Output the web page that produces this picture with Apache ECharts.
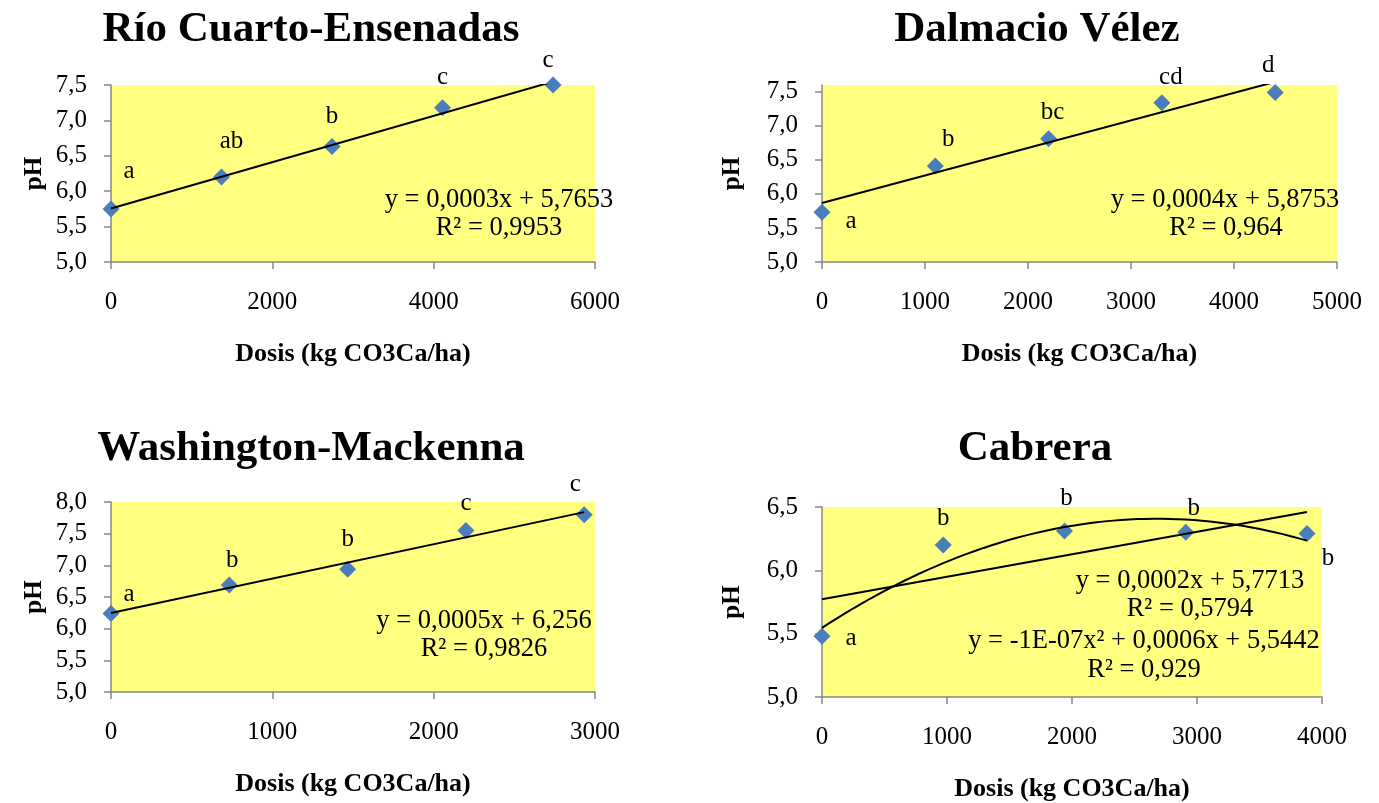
<!DOCTYPE html>
<html>
<head>
<meta charset="utf-8">
<script src="https://cdn.jsdelivr.net/npm/echarts@6/dist/echarts.min.js"></script>
<style>
html, body { margin: 0; padding: 0; background: #fff; }
#chart { width: 1379px; height: 803px; }
</style>
</head>
<body>
<div id="chart"></div>
<script>
// datos: dosis (kg CO3Ca/ha) y pH
var dosisRio = [0, 1370, 2740, 4110, 5480];
var phRio = [5.75, 6.20, 6.63, 7.18, 7.50];
var letrasRio = ['a', 'ab', 'b', 'c', 'c'];

var dosisDal = [0, 1100, 2200, 3300, 4400];
var phDal = [5.73, 6.41, 6.81, 7.34, 7.49];
var letrasDal = ['a', 'b', 'bc', 'cd', 'd'];

var dosisWas = [0, 733, 1467, 2200, 2933];
var phWas = [6.24, 6.69, 6.94, 7.55, 7.80];
var letrasWas = ['a', 'b', 'b', 'c', 'c'];

var dosisCab = [0, 970, 1940, 2910, 3880];
var phCab = [5.48, 6.20, 6.31, 6.30, 6.29];
var letrasCab = ['a', 'b', 'b', 'b', 'b'];

var titulos = ['Río Cuarto-Ensenadas', 'Dalmacio Vélez', 'Washington-Mackenna', 'Cabrera'];
var ecuaciones = [
  ['y = 0,0003x + 5,7653', 'R² = 0,9953'],
  ['y = 0,0004x + 5,8753', 'R² = 0,964'],
  ['y = 0,0005x + 6,256', 'R² = 0,9826'],
  ['y = 0,0002x + 5,7713', 'R² = 0,5794', 'y = -1E-07x² + 0,0006x + 5,5442', 'R² = 0,929']
];
var xTicks = [[0, 6000, 2000], [0, 5000, 1000], [0, 3000, 1000], [0, 4000, 1000]];
var yTicks = [[5, 7.5, 7.5], [5, 7.5, 7.6], [5, 8, 8], [5, 6.5, 6.5]]; // min, ultimo tick, max

// desplazamiento de las letras respecto de cada punto
var offRio = [[18, -37], [10, -36], [0, -30], [0, -30], [-5, -25]];
var offDal = [[29, 9], [13, -27], [4, -26], [9, -25], [-7, -27]];
var offWas = [[18, -19], [3, -25], [0, -30], [0, -27], [-9, -30]];
var offCab = [[29, 2], [0, -27], [2, -33], [8, -24], [21, 25]];

var serif = '"Liberation Serif", "Times New Roman", serif';
var azul = '#4A7EBB';
var gris = '#868686';

function ajusteLineal(xs, ys) {
  var n = xs.length, sx = 0, sy = 0, sxx = 0, sxy = 0;
  for (var i = 0; i < n; i++) {
    sx += xs[i]; sy += ys[i]; sxx += xs[i] * xs[i]; sxy += xs[i] * ys[i];
  }
  var b = (n * sxy - sx * sy) / (n * sxx - sx * sx);
  var a = (sy - b * sx) / n;
  return [a, b];
}

function ajusteCuadratico(xs, ys) {
  // ecuaciones normales, x en miles para no perder precision
  var s = [0, 0, 0, 0, 0], t = [0, 0, 0];
  for (var i = 0; i < xs.length; i++) {
    var u = xs[i] / 1000;
    for (var k = 0; k < 5; k++) s[k] += Math.pow(u, k);
    for (var k = 0; k < 3; k++) t[k] += Math.pow(u, k) * ys[i];
  }
  var m = [[s[0], s[1], s[2], t[0]], [s[1], s[2], s[3], t[1]], [s[2], s[3], s[4], t[2]]];
  for (var c = 0; c < 3; c++) {
    for (var r = c + 1; r < 3; r++) {
      var f = m[r][c] / m[c][c];
      for (var j = c; j < 4; j++) m[r][j] -= f * m[c][j];
    }
  }
  var sol = [0, 0, 0];
  for (var r = 2; r >= 0; r--) {
    var v = m[r][3];
    for (var j = r + 1; j < 3; j++) v -= m[r][j] * sol[j];
    sol[r] = v / m[r][r];
  }
  return sol;
}

function puntos(xs, ys, letras, offs, idx) {
  var data = xs.map(function (x, i) {
    return {
      value: [x, ys[i]],
      label: { formatter: letras[i], offset: offs[i] }
    };
  });
  return {
    type: 'scatter', xAxisIndex: idx, yAxisIndex: idx,
    symbol: 'diamond', symbolSize: 17,
    itemStyle: { color: azul, opacity: 1 },
    label: {
      show: true, position: 'inside', color: '#000', fontFamily: serif, fontSize: 25,
      textBorderWidth: 0, textBorderColor: 'transparent'
    },
    data: data, z: 2
  };
}

function recta(xs, ys, idx) {
  var c = ajusteLineal(xs, ys);
  var x1 = xs[xs.length - 1];
  return {
    type: 'line', xAxisIndex: idx, yAxisIndex: idx, symbol: 'none', clip: true,
    lineStyle: { color: '#000', width: 2 }, z: 3,
    data: [[xs[0], c[0]], [x1, c[0] + c[1] * x1]]
  };
}

function curva(xs, ys, idx) {
  var c = ajusteCuadratico(xs, ys);
  var x1 = xs[xs.length - 1], d = [];
  for (var i = 0; i <= 60; i++) {
    var x = x1 * i / 60, u = x / 1000;
    d.push([x, c[0] + c[1] * u + c[2] * u * u]);
  }
  return {
    type: 'line', xAxisIndex: idx, yAxisIndex: idx, symbol: 'none', clip: true,
    smooth: false, lineStyle: { color: '#000', width: 2 }, z: 3, data: d
  };
}

var grids = [
  { left: 111, top: 85, width: 484, height: 177 },
  { left: 822, top: 85, width: 515, height: 177 },
  { left: 111, top: 502, width: 484, height: 190 },
  { left: 822, top: 507, width: 500, height: 190 }
];
var nameGapY = [64, 77, 64, 77];

var xAxis = [], yAxis = [];
for (var i = 0; i < 4; i++) {
  grids[i].show = true;
  grids[i].backgroundColor = '#FFFF80';
  grids[i].borderWidth = 0;
  xAxis.push({
    type: 'value', gridIndex: i, min: xTicks[i][0], max: xTicks[i][1], interval: xTicks[i][2],
    name: 'Dosis (kg CO3Ca/ha)', nameLocation: 'middle', nameGap: 79,
    nameTextStyle: { fontFamily: serif, fontWeight: 'bold', fontSize: 26, color: '#000' },
    axisLine: { lineStyle: { color: gris, width: 1.5 } },
    axisTick: { show: true, length: 7, lineStyle: { color: gris, width: 1.5 } },
    axisLabel: {
      fontFamily: serif, fontSize: 25, color: '#000', margin: 28,
      formatter: function (v) { return String(v); }
    },
    splitLine: { show: false }
  });
  var vals = [];
  for (var v = yTicks[i][0]; v <= yTicks[i][1] + 1e-9; v += 0.5) vals.push(Math.round(v * 10) / 10);
  yAxis.push({
    type: 'value', gridIndex: i, min: yTicks[i][0], max: yTicks[i][2],
    name: 'pH', nameLocation: 'middle', nameGap: nameGapY[i], nameRotate: 90,
    nameTextStyle: { fontFamily: serif, fontWeight: 'bold', fontSize: 25, color: '#000' },
    axisLine: { show: true, lineStyle: { color: gris, width: 1.5 } },
    axisTick: { show: true, length: 7, customValues: vals, lineStyle: { color: gris, width: 1.5 } },
    axisLabel: {
      fontFamily: serif, fontSize: 25, color: '#000', margin: 24, customValues: vals,
      formatter: function (v) { return v.toFixed(1).replace('.', ','); }
    },
    splitLine: { show: false }
  });
}

var titlePos = [[311, 8], [1037, 8], [311, 427], [1035, 427]];
var title = titulos.map(function (t, i) {
  return {
    text: t, left: titlePos[i][0], top: titlePos[i][1], textAlign: 'center', padding: 0,
    textStyle: { fontFamily: serif, fontWeight: 'bold', fontSize: 43, color: '#000' }
  };
});

var eqPos = [
  [[499, 200], [499, 228]],
  [[1225, 200], [1226, 228]],
  [[484, 621], [484, 649]],
  [[1190, 581], [1190, 609], [1144, 641], [1144, 670]]
];
var graphic = [];
ecuaciones.forEach(function (lineas, i) {
  lineas.forEach(function (txt, j) {
    graphic.push({
      type: 'text', x: eqPos[i][j][0], y: eqPos[i][j][1], z: 10,
      style: { text: txt, align: 'center', verticalAlign: 'middle', font: '26.5px ' + serif, fill: '#000' }
    });
  });
});

var series = [
  puntos(dosisRio, phRio, letrasRio, offRio, 0), recta(dosisRio, phRio, 0),
  puntos(dosisDal, phDal, letrasDal, offDal, 1), recta(dosisDal, phDal, 1),
  puntos(dosisWas, phWas, letrasWas, offWas, 2), recta(dosisWas, phWas, 2),
  puntos(dosisCab, phCab, letrasCab, offCab, 3), recta(dosisCab, phCab, 3), curva(dosisCab, phCab, 3)
];

var chart = echarts.init(document.getElementById('chart'));
chart.setOption({
  backgroundColor: '#fff',
  animation: false,
  title: title,
  grid: grids,
  xAxis: xAxis,
  yAxis: yAxis,
  series: series,
  graphic: graphic
});
</script>
</body>
</html>
